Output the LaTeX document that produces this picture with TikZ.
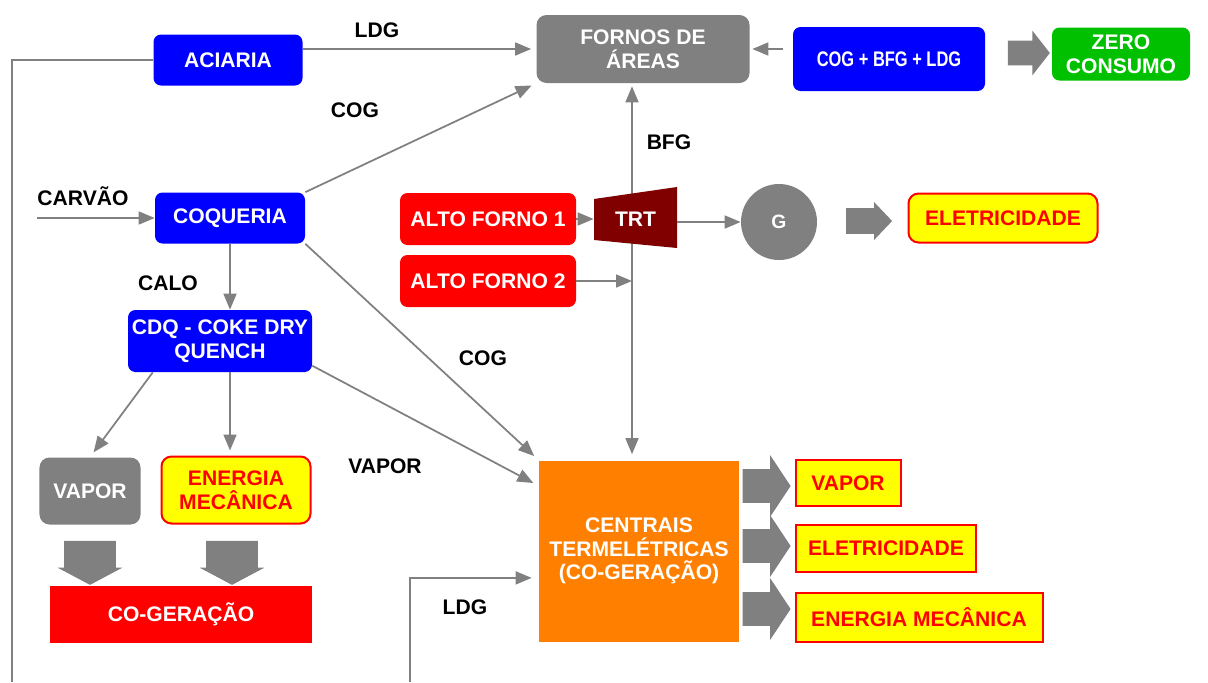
\documentclass[tikz,border=0pt]{standalone}
\usepackage{fontspec}
\setmainfont{Liberation Sans}
\usetikzlibrary{arrows.meta,shapes.arrows}
\definecolor{boxblue}{RGB}{0,0,255}
\definecolor{boxgray}{RGB}{128,128,128}
\definecolor{boxred}{RGB}{255,0,0}
\definecolor{boxyellow}{RGB}{255,255,0}
\definecolor{zerogreen}{RGB}{0,192,0}
\definecolor{trtred}{RGB}{128,0,0}
\definecolor{termorange}{RGB}{255,128,0}
\begin{document}
\begin{tikzpicture}[x=0.2mm,y=-0.2mm,
  every node/.style={font=\fontsize{12}{13.5}\selectfont\bfseries, align=center, inner sep=0pt},
  bluebox/.style={fill=boxblue, text=white, rounded corners=1.5mm},
  graybox/.style={fill=boxgray, text=white, rounded corners=2mm},
  redbox/.style={fill=boxred, text=white, rounded corners=1.5mm},
  yellowbox/.style={fill=boxyellow, draw=boxred, line width=0.4mm, text=boxred},
  flow/.style={draw=boxgray, line width=0.35mm, -{Triangle[length=3.2mm,width=2.6mm]}},
  feed/.style={draw=boxgray, line width=0.35mm},
  fat/.style={single arrow, fill=boxgray, single arrow head indent=0pt, inner xsep=0pt}]
\useasboundingbox (0,0) rectangle (1208,682);

% upper row
\node[bluebox, minimum width=29.8mm, minimum height=10.2mm] (aciaria) at (228,60) {ACIARIA};
\node[graybox, minimum width=42.6mm, minimum height=13.6mm] (fornos) at (643,49) {FORNOS DE\\ÁREAS};
\node[bluebox, minimum width=38.4mm, minimum height=12.8mm] (mix) at (889,59) {\scalebox{0.78}[1]{COG + BFG + LDG}};
\node[fill=zerogreen, text=white, rounded corners=1.5mm, minimum width=27.6mm, minimum height=10.6mm] (zero) at (1121,54) {ZERO\\CONSUMO};

% coke side
\node[bluebox, minimum width=30mm, minimum height=10.2mm] (coqueria) at (230,218) {COQUERIA};
\node[bluebox, minimum width=36.8mm, minimum height=12.4mm] (cdq) at (220,341) {CDQ - COKE DRY\\QUENCH};
\node[graybox, minimum width=20.2mm, minimum height=13.4mm] (vapora) at (90,491) {VAPOR};
\node[yellowbox, rounded corners=2mm, minimum width=29.8mm, minimum height=13.4mm] (energiaa) at (236,490) {ENERGIA\\MECÂNICA};
\node[fill=boxred, text=white, minimum width=52.2mm, minimum height=11.4mm] (cogeracao) at (181,614) {CO-GERAÇÃO};

% blast furnaces
\node[redbox, minimum width=35.2mm, minimum height=10.4mm] (afa) at (488,219) {ALTO FORNO 1};
\node[redbox, minimum width=35.2mm, minimum height=10.4mm] (afb) at (488,281) {ALTO FORNO 2};
\node[circle, fill=boxgray, text=white, minimum size=15.2mm, font=\fontsize{11}{12}\selectfont\bfseries] (g) at (779,222) {G};
\node[yellowbox, rounded corners=2mm, minimum width=37.8mm, minimum height=9.8mm] (eleta) at (1003,218) {ELETRICIDADE};

% power plant
\node[fill=termorange, text=white, minimum width=40mm, minimum height=36.2mm] (centrais) at (639,551) {CENTRAIS\\TERMELÉTRICAS\\(CO-GERAÇÃO)};
\node[yellowbox, minimum width=21mm, minimum height=9.2mm] (vaporb) at (848,483) {VAPOR};
\node[yellowbox, minimum width=36mm, minimum height=9.4mm] (eletb) at (886,548) {ELETRICIDADE};
\node[yellowbox, minimum width=49.4mm, minimum height=9.8mm] (energiab) at (919,617) {ENERGIA MECÂNICA};

% labels
\node (ldga) at (377,30) {LDG};
\node (coga) at (355,110) {COG};
\node (carvao) at (83,196) {CARVÃO};
\node (calo) at (168,283) {CALO};
\node (bfg) at (669,142) {BFG};
\node (cogb) at (483,358) {COG};
\node (vaporlbl) at (385,466) {VAPOR};
\node (ldgb) at (465,607) {LDG};

% BFG line, under the TRT
\coordinate (junction) at (632,281);
\draw[flow, shorten >=0.6mm] (junction) -- (junction |- fornos.south);
\draw[flow, shorten >=1.2mm] (junction) -- (junction |- centrais.north);
\fill[trtred] (594,199) -- (677,187) -- (677,248) -- (594,240) -- cycle;
\node[text=white, minimum width=16.6mm, minimum height=8mm] (trt) at (635.5,219) {TRT};

% connectors
\draw[flow, shorten >=1mm] (aciaria.east |- fornos.west) -- (fornos.west);
\draw[flow, shorten <=2mm, shorten >=0.5mm] (mix.west |- fornos.east) -- (fornos.east);
\draw[flow, shorten >=1mm] (coqueria.north east) -- (fornos.south west);
\draw[flow] (afa.east) -- (afa.east -| trt.west);
\draw[flow] (trt.east |- g) -- (g.west);
\draw[flow] (afb.east) -- (junction);
\coordinate (carvin) at (37,218);
\draw[flow] (carvin) -- (coqueria.west);
\draw[flow] (coqueria.south) -- (coqueria.south |- cdq.north);
\draw[flow, shorten >=1.2mm] (coqueria.south east) -- (centrais.north west);
\draw[flow, shorten >=1.2mm] (cdq.-15) -- (centrais.147);
\draw[flow, shorten >=1.2mm] (cdq.-155) -- (vapora.north);
\draw[flow, shorten >=1mm] (coqueria.south |- cdq.south) -- (coqueria.south |- energiaa.north);
\coordinate (aciariaout) at (12,682);
\draw[feed] (aciaria.west) -| (aciariaout);
\coordinate (ldgin) at (410,682);
\draw[flow, shorten >=1.4mm] (ldgin) |- (centrais.195);

% block arrows
\node[fat, minimum height=8.4mm, inner ysep=2.4mm, single arrow head extend=2mm, single arrow tip angle=104] (fatzero) at (1024,53) {};
\node[fat, minimum height=9.2mm, inner ysep=2.5mm, single arrow head extend=1.2mm, single arrow tip angle=93] (fatg) at (863,221) {};
\node[fat, rotate=-90, minimum height=8.8mm, inner ysep=5.1mm, single arrow head extend=1.3mm, single arrow tip angle=124] (fatvap) at (90,556) {};
\node[fat, rotate=-90, minimum height=8.8mm, inner ysep=5.1mm, single arrow head extend=1.3mm, single arrow tip angle=124] (fatmec) at (232,556) {};
\node[fat, minimum height=9.6mm, inner ysep=3.3mm, single arrow head extend=2.8mm, single arrow tip angle=113] (fatouta) at (761,486) {};
\node[fat, minimum height=9.6mm, inner ysep=3.3mm, single arrow head extend=2.8mm, single arrow tip angle=113] (fatoutb) at (761,546) {};
\node[fat, minimum height=9.6mm, inner ysep=3.3mm, single arrow head extend=2.8mm, single arrow tip angle=113] (fatoutc) at (761,609) {};
\end{tikzpicture}
\end{document}
